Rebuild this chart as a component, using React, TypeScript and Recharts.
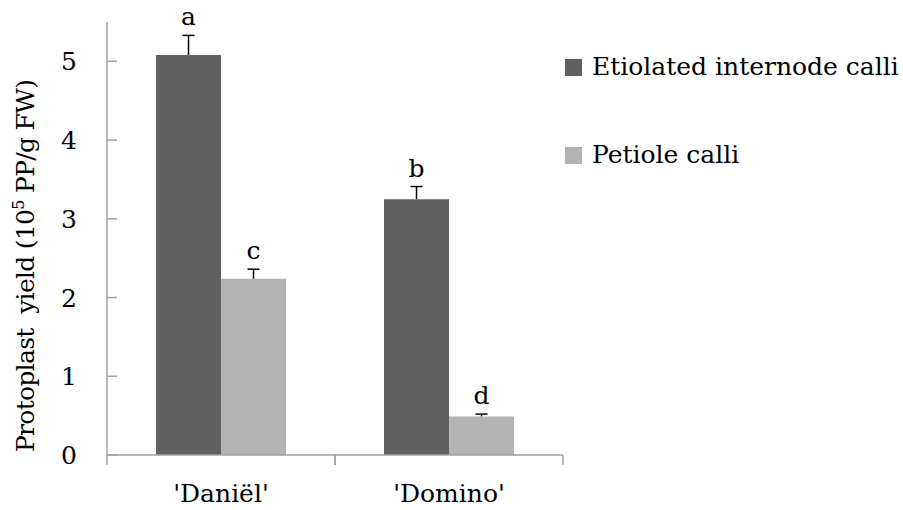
import { Bar, BarChart, LabelList, Legend, XAxis, YAxis } from "recharts";

const cultivars = ["'Daniël'", "'Domino'"];
const etiolatedYield = [5.08, 3.25];
const etiolatedErr = [0.25, 0.16];
const etiolatedLetters = ["a", "b"];
const petioleYield = [2.24, 0.49];
const petioleErr = [0.12, 0.03];
const petioleLetters = ["c", "d"];
const yTicks = [0, 1, 2, 3, 4, 5];

const COLORS = { etiolated: "#606060", petiole: "#b3b3b3", axis: "#a0a0a0" };
const FONT = "'DejaVu Serif', serif";
const FONT_SIZE = 25;

const CHART_W = 903;
const CHART_H = 510;
const MARGIN = { top: 22, right: 340, bottom: 0, left: 0 };
const Y_AXIS_W = 107;
const X_AXIS_H = 55;
const BAND = (CHART_W - MARGIN.right - MARGIN.left - Y_AXIS_W) / cultivars.length;

const data = cultivars.map((name, i) => ({
  name,
  etiolated: etiolatedYield[i],
  petiole: petioleYield[i],
}));

function YTick(props: any) {
  const { x, y, payload } = props;
  return (
    <g>
      <line x1={x + 30} x2={x + 40} y1={y} y2={y} stroke={COLORS.axis} strokeWidth={1.5} />
      <text x={x} y={y} dy="0.36em" textAnchor="end" fontFamily={FONT} fontSize={FONT_SIZE} fill="#000">
        {payload.value}
      </text>
    </g>
  );
}

function XTick(props: any) {
  const { x, y, payload } = props;
  return (
    <g>
      <line x1={x - BAND / 2} x2={x - BAND / 2} y1={y} y2={y + 10} stroke={COLORS.axis} strokeWidth={1.5} />
      <line x1={x + BAND / 2} x2={x + BAND / 2} y1={y} y2={y + 10} stroke={COLORS.axis} strokeWidth={1.5} />
      <text x={x} y={y + 47} textAnchor="middle" fontFamily={FONT} fontSize={FONT_SIZE} fill="#000">
        {payload.value}
      </text>
    </g>
  );
}

// error bar (upper only) + significance letter, scaled from the bar's own pixel height
function makeErrLabel(errs: number[], letters: string[]) {
  return (props: any) => {
    const { x, y, width, height, value, index } = props;
    const errPx = (errs[index] * height) / value;
    const cx = x + width / 2;
    const top = y - errPx;
    return (
      <g>
        <line x1={cx} x2={cx} y1={y} y2={top} stroke="#000" strokeWidth={1.5} />
        <line x1={cx - 6} x2={cx + 6} y1={top} y2={top} stroke="#000" strokeWidth={1.5} />
        <text x={cx} y={top - 10} textAnchor="middle" fontFamily={FONT} fontSize={FONT_SIZE} fill="#000">
          {letters[index]}
        </text>
      </g>
    );
  };
}

function YLabel() {
  return (
    <text
      transform="translate(34, 452) rotate(-90)"
      textAnchor="start"
      fontFamily={FONT}
      fontSize={FONT_SIZE}
      letterSpacing={-0.7}
      fill="#000"
      style={{ whiteSpace: "pre" }}
    >
      <tspan>Protoplast  yield (10</tspan>
      <tspan fontSize={16} dy={-10}>5</tspan>
      <tspan dy={10}> PP/g FW)</tspan>
    </text>
  );
}

function LegendBox() {
  const rows = [
    { label: "Etiolated internode calli", color: COLORS.etiolated },
    { label: "Petiole calli", color: COLORS.petiole },
  ];
  return (
    <div style={{ fontFamily: FONT, fontSize: FONT_SIZE, color: "#000" }}>
      {rows.map((r) => (
        <div key={r.label} style={{ display: "flex", alignItems: "center", height: 44, marginBottom: 44, whiteSpace: "nowrap" }}>
          <span style={{ display: "inline-block", width: 17, height: 17, background: r.color, marginRight: 10, marginTop: 2 }} />
          <span>{r.label}</span>
        </div>
      ))}
    </div>
  );
}

export default function App() {
  return (
    <div style={{ position: "absolute", left: 0, top: 0, background: "#fff" }}>
      <BarChart width={CHART_W} height={CHART_H} data={data} margin={MARGIN} barCategoryGap="21.5%" barGap={0}>
        <XAxis
          dataKey="name"
          height={X_AXIS_H}
          tickLine={false}
          tickSize={0}
          tickMargin={0}
          axisLine={{ stroke: COLORS.axis, strokeWidth: 1.5 }}
          tick={<XTick />}
          interval={0}
        />
        <YAxis
          width={Y_AXIS_W}
          domain={[0, 5.5]}
          ticks={yTicks}
          tickLine={false}
          tickSize={0}
          tickMargin={30}
          axisLine={{ stroke: COLORS.axis, strokeWidth: 1.5 }}
          tick={<YTick />}
          label={<YLabel />}
        />
        <Legend
          layout="vertical"
          align="center"
          verticalAlign="middle"
          wrapperStyle={{ left: 565, top: 44 }}
          content={<LegendBox />}
        />
        <Bar dataKey="etiolated" name="Etiolated internode calli" fill={COLORS.etiolated} isAnimationActive={false}>
          <LabelList dataKey="etiolated" content={makeErrLabel(etiolatedErr, etiolatedLetters)} />
        </Bar>
        <Bar dataKey="petiole" name="Petiole calli" fill={COLORS.petiole} isAnimationActive={false}>
          <LabelList dataKey="petiole" content={makeErrLabel(petioleErr, petioleLetters)} />
        </Bar>
      </BarChart>
    </div>
  );
}
